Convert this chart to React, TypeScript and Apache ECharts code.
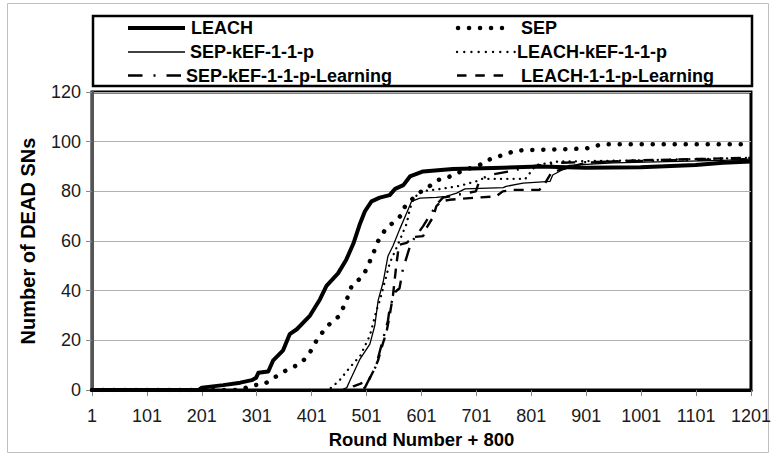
import React, { useEffect, useRef } from "react";
import * as echarts from "echarts";

// ---- data: [round, number of dead SNs] ----
const seriesNames = [
  "LEACH",
  "SEP",
  "SEP-kEF-1-1-p",
  "LEACH-kEF-1-1-p",
  "SEP-kEF-1-1-p-Learning",
  "LEACH-1-1-p-Learning",
];

const leach: [number, number][] = [
  [1, 0], [195, 0], [201, 1], [240, 2], [271, 3], [292, 4], [300, 5], [304, 7], [322, 7.5],
  [331, 12], [349, 16], [361, 22.5], [374, 24.5], [398, 30], [416, 36.5], [428, 42], [449, 47],
  [464, 52.5], [477, 59], [489, 67], [498, 72], [510, 76], [525, 77.5], [543, 78.5], [553, 81],
  [568, 82.5], [580, 86], [604, 88], [658, 89], [749, 89.5], [816, 90], [900, 89.5], [1000, 89.7],
  [1100, 90.6], [1150, 91.5], [1201, 92],
];

const sep: [number, number][] = [
  [1, 0], [270, 0], [295, 2], [313, 2.2], [340, 6], [355, 8], [380, 10.6], [395, 14], [410, 20],
  [428, 25.5], [452, 30], [465, 36.5], [474, 42], [495, 46], [510, 53.3], [522, 60], [537, 65.3],
  [553, 68], [565, 70.6], [571, 74], [586, 77.3], [604, 80.6], [619, 82.6], [631, 84.6], [646, 85.3],
  [665, 87.3], [689, 89.3], [707, 90.6], [722, 92.6], [740, 94], [755, 95], [771, 96.3], [789, 96.6],
  [900, 97.2], [930, 99], [1201, 99],
];

const sepKef: [number, number][] = [
  [1, 0], [455, 0], [465, 1], [471, 4], [489, 12.5], [507, 18.5], [516, 26], [522, 36], [531, 43.3],
  [540, 54], [549, 58], [561, 64.6], [574, 71.3], [583, 76], [598, 77.3], [628, 77.6], [646, 78],
  [665, 79.3], [680, 81], [750, 81.5], [755, 82], [786, 83.3], [835, 84], [840, 86.6], [852, 88],
  [870, 90.5], [950, 91.5], [1050, 92], [1150, 92.5], [1201, 93],
];

const leachKef: [number, number][] = [
  [1, 0], [430, 0], [437, 1], [452, 4], [470, 9], [490, 14], [507, 22], [519, 32], [525, 36],
  [543, 51], [555, 57], [574, 67], [580, 73], [586, 76.6], [598, 80], [622, 80.6], [646, 81.3],
  [665, 82], [677, 82.6], [700, 84], [710, 85], [790, 85], [798, 87.3], [810, 90.6], [850, 92],
  [1000, 92.5], [1201, 93.5],
];

const sepKefLearning: [number, number][] = [
  [1, 0], [490, 0], [498, 1], [507, 5], [519, 10], [522, 13], [531, 20.5], [540, 28], [543, 33],
  [553, 39.5], [561, 41], [567, 48.5], [576, 55], [582, 59.3], [604, 66], [619, 71.3], [631, 75.3],
  [640, 77.5], [700, 80], [707, 84.6], [725, 86.6], [760, 88], [800, 90], [850, 91.5], [950, 92],
  [1050, 92.5], [1201, 93],
];

const leachLearning: [number, number][] = [
  [1, 0], [470, 0], [477, 1.5], [489, 2.5], [505, 4], [513, 7.5], [522, 12], [531, 19], [537, 23],
  [543, 30], [549, 38], [555, 50], [560, 58.5], [574, 59.3], [586, 61.6], [604, 62], [610, 65.3],
  [622, 69.6], [628, 74], [637, 76], [652, 76.6], [689, 77.3], [737, 78], [749, 80], [768, 80.6],
  [816, 80.6], [828, 84], [837, 87.3], [852, 88.6], [900, 91.5], [1000, 92.5], [1100, 93],
  [1201, 93.5],
];

const allData = [leach, sep, sepKef, leachKef, sepKefLearning, leachLearning];

const xTitle = "Round Number + 800";
const yTitle = "Number of DEAD SNs";

// ---- styles ----
const FONT = '"Liberation Sans", Arial, sans-serif';
const lineStyles: any[] = [
  { width: 4, type: "solid", join: "round" },
  { width: 4.5, type: [0.1, 10.9], cap: "round" },
  { width: 1.3, type: "solid" },
  { width: 2.3, type: [0.1, 6.2], cap: "round" },
  { width: 2.4, type: [14, 9, 2, 9] },
  { width: 2.4, type: [10, 7.5] },
];
const legendIcons: any[] = [
  { x1: 128, x2: 185, lineWidth: 4 },
  { x1: 458, x2: 502, lineWidth: 4.5, lineDash: [0.1, 10.9], lineCap: "round" },
  { x1: 128, x2: 185, lineWidth: 1.3 },
  { x1: 457, x2: 515, lineWidth: 2.3, lineDash: [0.1, 7.1], lineCap: "round" },
  { x1: 128, x2: 181, lineWidth: 2.4, lineDash: [14.5, 11, 2, 11] },
  { x1: 457, x2: 503.5, lineWidth: 2.4, lineDash: [9.5, 8.8] },
];
const legendText = [
  { x: 191, y: 28 },
  { x: 521, y: 28 },
  { x: 190, y: 52 },
  { x: 517, y: 52 },
  { x: 186, y: 75.5 },
  { x: 521, y: 75.5 },
];

export default function App() {
  const ref = useRef<HTMLDivElement>(null);
  useEffect(() => {
    if (!ref.current) return;
    const chart = echarts.init(ref.current, undefined, { renderer: "svg" });
    const graphic: any[] = [
      {
        type: "rect",
        shape: { x: 7.5, y: 3.5, width: 761, height: 449 },
        style: { fill: "none", stroke: "#bfbfbf", lineWidth: 1 },
        silent: true,
      },
      {
        type: "rect",
        shape: { x: 93, y: 16, width: 659, height: 70 },
        style: { fill: "#fff", stroke: "#000", lineWidth: 2.5 },
        silent: true,
      },
    ];
    legendIcons.forEach((ic, i) => {
      const t = legendText[i];
      graphic.push({
        type: "line",
        shape: { x1: ic.x1, y1: t.y, x2: ic.x2, y2: t.y },
        style: {
          stroke: "#000",
          lineWidth: ic.lineWidth,
          lineDash: ic.lineDash,
          lineCap: ic.lineCap || "butt",
        },
        silent: true,
      });
      graphic.push({
        type: "text",
        x: t.x,
        y: t.y,
        style: {
          text: seriesNames[i],
          font: `bold 18px ${FONT}`,
          fill: "#000",
          textAlign: "left",
          textVerticalAlign: "middle",
          align: "left",
          verticalAlign: "middle",
        },
        silent: true,
      });
    });

    chart.setOption({
      animation: false,
      grid: {
        left: 92,
        right: 22,
        top: 92,
        bottom: 62,
        show: true,
        borderColor: "#000",
        borderWidth: 3,
        backgroundColor: "transparent",
      },
      xAxis: {
        type: "value",
        min: 1,
        max: 1201,
        interval: 100,
        name: xTitle,
        nameLocation: "middle",
        nameGap: 36,
        nameTextStyle: { fontFamily: FONT, fontWeight: "bold", fontSize: 18.5, color: "#000" },
        axisLine: { show: true, lineStyle: { color: "#000", width: 3 } },
        axisTick: { show: true, length: 6, lineStyle: { color: "#868686", width: 1 } },
        axisLabel: {
          fontFamily: FONT,
          fontSize: 18,
          color: "#1a1a1a",
          margin: 17,
          showMinLabel: true,
          showMaxLabel: true,
          formatter: (v: number) => String(v),
        },
        splitLine: { show: false },
      },
      yAxis: {
        type: "value",
        min: 0,
        max: 120,
        interval: 20,
        name: yTitle,
        nameLocation: "middle",
        nameGap: 54,
        nameTextStyle: { fontFamily: FONT, fontWeight: "bold", fontSize: 20, color: "#000" },
        axisLine: { show: true, lineStyle: { color: "#555", width: 3 } },
        axisTick: { show: true, length: 6, lineStyle: { color: "#868686", width: 1 } },
        axisLabel: {
          fontFamily: FONT,
          fontSize: 18,
          color: "#1a1a1a",
          margin: 11,
          formatter: (v: number) => String(v),
        },
        splitLine: { show: true, lineStyle: { color: "#b0b0b0", width: 1 } },
      },
      graphic,
      series: allData.map((d, i) => ({
        name: seriesNames[i],
        type: "line",
        data: d,
        symbol: "none",
        showSymbol: false,
        lineStyle: { color: "#000", ...lineStyles[i] },
        z: 2 + i,
      })),
    });
    return () => chart.dispose();
  }, []);
  return (
    <div
      ref={ref}
      style={{ position: "fixed", left: 0, top: 0, width: 774, height: 454, background: "#fff" }}
    />
  );
}
